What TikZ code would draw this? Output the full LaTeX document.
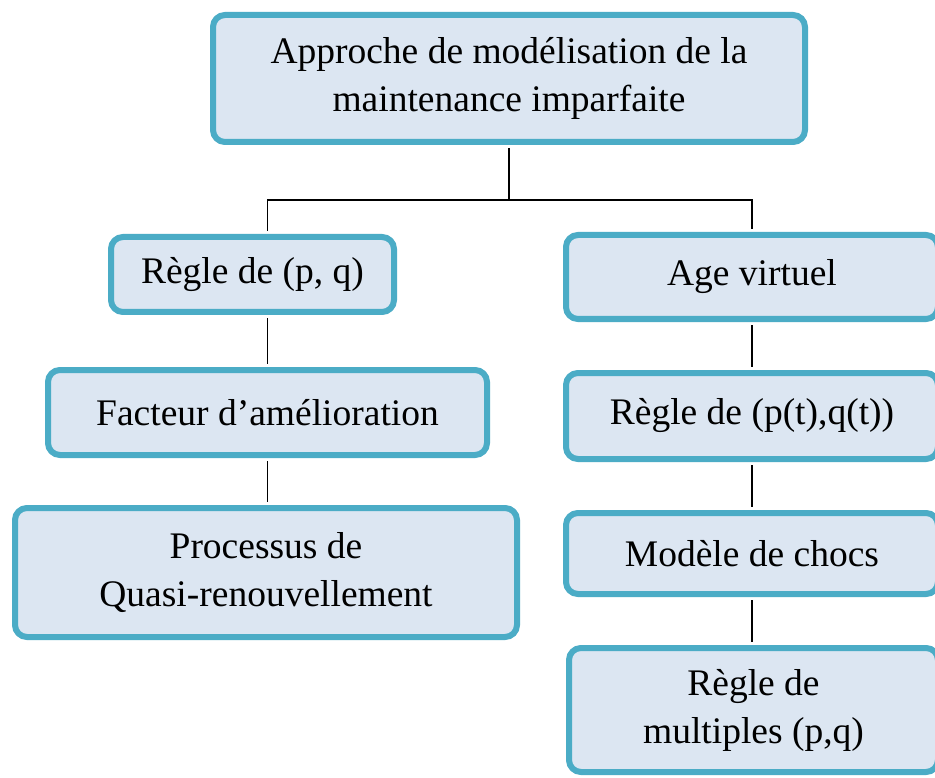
\documentclass[tikz,border=0pt]{standalone}
\usepackage{fontspec}
\setmainfont{Liberation Serif}
\definecolor{boxline}{HTML}{4BACC6}
\definecolor{boxfill}{HTML}{DCE6F2}
\begin{document}
\begin{tikzpicture}[x=1pt,y=-1pt,
  box/.style={draw=boxline, fill=boxfill, line width=6pt, rounded corners=12pt,
    align=center, inner sep=0pt, font=\fontsize{37.5}{48}\selectfont},
  link/.style={draw=black, line width=1.5pt, shorten <=3pt, shorten >=3pt}]
\path[use as bounding box, clip] (0,0) rectangle (935,778);
\fill[white] (0,0) rectangle (935,778);
\node [box, minimum width=592pt, minimum height=127pt] (approche) at (509,78.5) {Approche de modélisation de la\\maintenance imparfaite};
\node [box, minimum width=283pt, minimum height=75pt] (regle) at (252.5,274.5) {Règle de (p, q)};
\node [box, minimum width=439pt, minimum height=85pt] (facteur) at (267.5,412.5) {Facteur d’amélioration};
\node [box, minimum width=502pt, minimum height=129pt] (processus) at (266,572.5) {Processus de\\Quasi-renouvellement};
\node [box, minimum width=372pt, minimum height=84pt] (age) at (752,277) {Age virtuel};
\node [box, minimum width=372pt, minimum height=86pt] (reglet) at (752,416) {Règle de (p(t),q(t))};
\node [box, minimum width=372pt, minimum height=81pt] (chocs) at (752,553.5) {Modèle de chocs};
\node [box, minimum width=369pt, minimum height=124pt] (multiples) at (753.5,710) {Règle de\\multiples (p,q)};
\coordinate (fork) at (509,200);
\draw [link, shorten >=0pt] (approche.south) -- (fork);
\draw [link] ([xshift=15pt]regle.north) |- (fork) -| (age.north);
\draw [link] ([xshift=15pt]regle.south) -- (facteur.north);
\draw [link] (facteur.south) -- (facteur.south |- processus.north);
\draw [link] (age.south) -- (reglet.north);
\draw [link] (reglet.south) -- (chocs.north);
\draw [link] (chocs.south) -- (chocs.south |- multiples.north);
\end{tikzpicture}
\end{document}
